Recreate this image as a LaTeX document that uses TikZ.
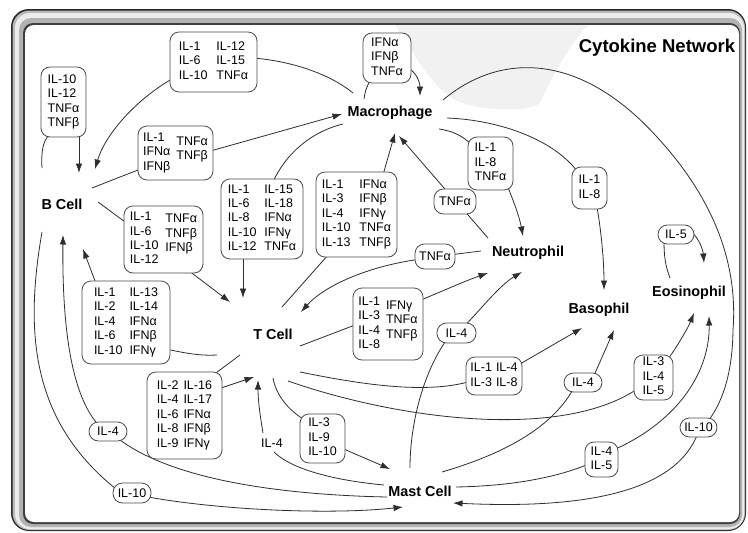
\documentclass[tikz,border=0pt]{standalone}
\usepackage{fontspec}
\setmainfont{Liberation Sans}
\usetikzlibrary{arrows.meta}
\pgfdeclarelayer{back}
\pgfdeclarelayer{edges}
\pgfsetlayers{back,edges,main}
\newcommand{\cl}[1]{\begin{tabular}[t]{@{}l@{}}#1\end{tabular}}
\newcommand{\cc}[1]{\begin{tabular}{@{}l@{}}#1\end{tabular}}
\tikzset{
  cellt/.style={font=\fontsize{14.4}{16}\selectfont\bfseries, inner sep=0pt},
  cbox/.style={draw=black!70, line width=0.8pt, rounded corners=9pt, fill=white, inner sep=0pt, font=\fontsize{12.5}{14.4}\selectfont},
  pill/.style={cbox, rounded corners=9.5pt},
  plaint/.style={inner sep=0pt, font=\fontsize{12.5}{14.4}\selectfont},
  ln/.style={draw=black!82, line width=0.8pt},
  ar/.style={ln, -{Latex[length=9.5pt,width=6.5pt]}}
}
\begin{document}
\begin{tikzpicture}[x=1pt,y=-1pt]
\useasboundingbox (0,0) rectangle (748,533);
% frame
\begin{pgfonlayer}{back}
\fill[black!85, rounded corners=18pt] (11,9) rectangle (746,531);
\fill[gray!55, rounded corners=17pt] (12.5,10.5) rectangle (745,530);
\fill[gray!15, rounded corners=15pt] (15,13) rectangle (744,529);
\fill[gray!60, rounded corners=12pt] (19,18) rectangle (742,527);
\fill[black!75, rounded corners=10pt] (23,23) rectangle (740,524);
\fill[white, rounded corners=9pt] (25,25) rectangle (739,522);
\begin{scope}
\clip[rounded corners=9pt] (25,25) rectangle (739,522);
\fill[gray!11] (395,25) .. controls (415,55) and (430,85) .. (455,100) .. controls (480,112) and (530,112) .. (540,103) .. controls (555,70) and (570,45) .. (588,25) -- cycle;
\end{scope}
\end{pgfonlayer}
% title and cells
\node[font=\fontsize{18.5}{20}\selectfont\bfseries, inner sep=0pt] (title) at (657,48) {Cytokine Network};
\node[cellt] (mac) at (390,113) {Macrophage};
\node[cellt] (bcell) at (62,204) {B Cell};
\node[cellt] (tcell) at (273,334) {T Cell};
\node[cellt] (neut) at (528,253) {Neutrophil};
\node[cellt] (baso) at (599,310) {Basophil};
\node[cellt] (eos) at (689,293) {Eosinophil};
\node[cellt] (mast) at (420,491) {Mast Cell};
% boxes
\node[cbox, minimum width=45pt, minimum height=70pt] (bA) at (63.5,102) {\cc{IL-10\\IL-12\\TNFα\\TNFβ}};
\node[cbox, minimum width=87pt, minimum height=60pt] (bB) at (213.5,62) {\cl{IL-1\\IL-6\\IL-10}\hspace{9pt}\cl{IL-12\\IL-15\\TNFα}};
\node[cbox, minimum width=48pt, minimum height=50pt] (bC) at (387,58) {\cc{IFNα\\IFNβ\\TNFα}};
\node[cbox, minimum width=75pt, minimum height=54pt] (bD) at (175.5,153) {\cl{IL-1\\IFNα\\IFNβ}\hspace{6pt}\raisebox{-4pt}{\cl{TNFα\\TNFβ}}};
\node[cbox, minimum width=79pt, minimum height=67pt] (bE) at (163.5,239.5) {\cl{IL-1\\IL-6\\IL-10\\IL-12}\hspace{7pt}\raisebox{-2pt}{\cl{TNFα\\TNFβ\\IFNβ}}};
\node[cbox, minimum width=82pt, minimum height=80pt] (bF) at (262,219) {\cl{IL-1\\IL-6\\IL-8\\IL-10\\IL-12}\hspace{8pt}\cl{IL-15\\IL-18\\IFNα\\IFNγ\\TNFα}};
\node[cbox, minimum width=81pt, minimum height=85pt] (bG) at (356.5,214.5) {\cl{IL-1\\IL-3\\IL-4\\IL-10\\IL-13}\hspace{9pt}\cl{IFNα\\IFNβ\\IFNγ\\TNFα\\TNFβ}};
\node[cbox, minimum width=45pt, minimum height=53pt] (bH) at (490.5,163.5) {\cc{IL-1\\IL-8\\TNFα}};
\node[cbox, minimum width=35pt, minimum height=42pt] (bI) at (589.5,188) {\cc{IL-1\\IL-8}};
\node[pill, minimum width=42pt, minimum height=25pt] (bJ) at (455,201.5) {TNFα};
\node[pill, minimum width=40pt, minimum height=25pt] (bK) at (435,256.5) {TNFα};
\node[pill, minimum width=36pt, minimum height=19pt] (bL) at (676,234.5) {IL-5};
\node[cbox, minimum width=88pt, minimum height=83pt] (bM) at (126,322.5) {\cl{IL-1\\IL-2\\IL-4\\IL-6\\IL-10}\hspace{7pt}\cl{IL-13\\IL-14\\IFNα\\IFNβ\\IFNγ}};
\node[cbox, minimum width=70pt, minimum height=72pt] (bN) at (388,324) {\cl{IL-1\\IL-3\\IL-4\\IL-8}\hspace{6pt}\raisebox{-4pt}{\cl{IFNγ\\TNFα\\TNFβ}}};
\node[pill, minimum width=39pt, minimum height=20pt] (bO) at (456.5,333) {IL-4};
\node[cbox, minimum width=75pt, minimum height=87pt] (bP) at (184.5,415.5) {\cl{IL-2\\IL-4\\IL-6\\IL-8\\IL-9}\hspace{5pt}\cl{IL-16\\IL-17\\IFNα\\IFNβ\\IFNγ}};
\node[pill, minimum width=38pt, minimum height=19pt] (bQ) at (108,431.5) {IL-4};
\node[pill, minimum width=38pt, minimum height=20pt] (bR) at (132,493) {IL-10};
\node[plaint] (il4) at (272,443) {IL-4};
\node[cbox, minimum width=45pt, minimum height=49pt] (bS) at (322.5,438.5) {\cc{IL-3\\IL-9\\IL-10}};
\node[cbox, minimum width=56pt, minimum height=38pt] (bT) at (494,376) {\cl{IL-1\\IL-3}\hspace{4pt}\cl{IL-4\\IL-8}};
\node[pill, minimum width=38pt, minimum height=19pt] (bU) at (583,382.5) {IL-4};
\node[cbox, minimum width=39pt, minimum height=45pt] (bV) at (653.5,377.5) {\cc{IL-3\\IL-4\\IL-5}};
\node[pill, minimum width=37pt, minimum height=19pt] (bW) at (698.5,427.5) {IL-10};
\node[cbox, minimum width=33pt, minimum height=35pt] (bX) at (601.5,459.5) {\cc{IL-4\\IL-5}};
% connectors
\begin{pgfonlayer}{edges}
\draw[ln] ([shift={(-20,-36)}]bcell.center) .. controls (41,152) and (43,140) .. ([shift={(-14,33)}]bA.center);
\draw[ar] ([shift={(15.5,30)}]bA.center) -- ([shift={(17,-31)}]bcell.center);
\draw[ln] ([shift={(-37,-20)}]mac.center) .. controls (335,78) and (300,62) .. ([shift={(40,-4)}]bB.center);
\draw[ar] ([shift={(-40,16)}]bB.center) .. controls (135,100) and (105,135) .. ([shift={(33,-35)}]bcell.center);
\draw[ln] ([shift={(30,-16)}]bcell.center) -- ([shift={(-35,16)}]bD.center);
\draw[ar] ([shift={(35,-2)}]bD.center) -- ([shift={(-48,1)}]mac.center);
\draw[ln] ([shift={(36,-2)}]bcell.center) -- ([shift={(-35,-15)}]bE.center);
\draw[ar] ([shift={(25,31)}]bE.center) -- ([shift={(-43,-32)}]tcell.center);
\draw[ln] ([shift={(-56,21)}]tcell.center) .. controls (200,356) and (185,353) .. ([shift={(42,27)}]bM.center);
\draw[ar] ([shift={(-30,-39)}]bM.center) -- ([shift={(21,45)}]bcell.center);
\draw[ln] ([shift={(-47,11)}]mac.center) .. controls (310,132) and (285,155) .. ([shift={(11,-37)}]bF.center);
\draw[ar] ([shift={(-19,37)}]bF.center) -- ([shift={(-30,-36)}]tcell.center);
\draw[ln] ([shift={(9,-27)}]tcell.center) -- ([shift={(-28,40)}]bG.center);
\draw[ar] ([shift={(25.5,-36)}]bG.center) -- ([shift={(5,20)}]mac.center);
\draw[ln] ([shift={(-40,-15)}]neut.center) -- ([shift={(10,10)}]bJ.center);
\draw[ar] ([shift={(-8,-10)}]bJ.center) -- ([shift={(9,23)}]mac.center);
\draw[ln] ([shift={(49,16)}]mac.center) .. controls (452,131) and (462,135) .. ([shift={(-18,-18)}]bH.center);
\draw[ar] ([shift={(16,20)}]bH.center) .. controls (513,200) and (519,215) .. ([shift={(-5,-17)}]neut.center);
\draw[ln] ([shift={(-26,-14)}]mac.center) .. controls (365,92) and (366,88) .. ([shift={(-17,23)}]bC.center);
\draw[ar] ([shift={(21,10)}]bC.center) .. controls (416,72) and (420,82) .. ([shift={(30,-17)}]mac.center);
\draw[ln] ([shift={(57,5)}]mac.center) .. controls (500,120) and (555,140) .. ([shift={(-11,-15)}]bI.center);
\draw[ar] ([shift={(7.5,19)}]bI.center) .. controls (601,230) and (604,260) .. ([shift={(5,-20)}]baso.center);
\draw[ln] ([shift={(53,-13)}]mac.center) .. controls (500,52) and (580,52) .. (657,137) .. controls (715,200) and (738,265) .. (733,330) .. controls (732.5,370) and (724,400) .. ([shift={(10,-7)}]bW.center);
\draw[ar] ([shift={(-1.5,8)}]bW.center) .. controls (670,500) and (560,508) .. ([shift={(33,12)}]mast.center);
\draw[ln] ([shift={(-47,-2)}]neut.center) -- ([shift={(18,-2)}]bK.center);
\draw[ar] ([shift={(-17,3)}]bK.center) .. controls (370,266) and (325,285) .. ([shift={(28,-22)}]tcell.center);
\draw[ln] ([shift={(27,12)}]tcell.center) -- ([shift={(-33,1)}]bN.center);
\draw[ar] ([shift={(33,-24)}]bN.center) .. controls (445,290) and (465,281) .. ([shift={(-40,20)}]neut.center);
\draw[ln] ([shift={(-10,-23)}]mast.center) .. controls (410,420) and (425,370) .. ([shift={(-10,7)}]bO.center);
\draw[ar] ([shift={(9,-8)}]bO.center) .. controls (480,310) and (500,285) .. ([shift={(-6,19)}]neut.center);
\draw[ln] ([shift={(27,38)}]tcell.center) .. controls (350,382) and (420,395) .. ([shift={(-26,6)}]bT.center);
\draw[ar] ([shift={(26,-12)}]bT.center) -- ([shift={(-17,18)}]baso.center);
\draw[ln] ([shift={(22,-19)}]mast.center) .. controls (500,455) and (550,430) .. ([shift={(-10,7)}]bU.center);
\draw[ar] ([shift={(11,-7)}]bU.center) -- ([shift={(15,20)}]baso.center);
\draw[ln] ([shift={(15,47)}]tcell.center) .. controls (400,420) and (560,440) .. ([shift={(-17,12)}]bV.center);
\draw[ar] ([shift={(15,-19)}]bV.center) .. controls (678,345) and (688,328) .. ([shift={(5,20)}]eos.center);
\draw[ln] ([shift={(36,-4)}]mast.center) .. controls (510,486) and (555,478) .. ([shift={(-14,5)}]bX.center);
\draw[ar] ([shift={(13,-10)}]bX.center) .. controls (680,420) and (710,370) .. ([shift={(20,23)}]eos.center);
\draw[ln] ([shift={(-36,-6)}]mast.center) .. controls (330,480) and (290,468) .. ([shift={(2,9)}]il4.center);
\draw[ar] ([shift={(-9,-10)}]il4.center) .. controls (260,415) and (258,400) .. ([shift={(-15,46)}]tcell.center);
\draw[ln] ([shift={(-33,6)}]mast.center) .. controls (290,495) and (175,482) .. ([shift={(10,7)}]bQ.center);
\draw[ar] ([shift={(-10,-7)}]bQ.center) .. controls (72,395) and (62,330) .. ([shift={(1,31)}]bcell.center);
\draw[ln] ([shift={(-20,28)}]bcell.center) .. controls (25,330) and (30,420) .. ([shift={(-16,-4)}]bR.center);
\draw[ar] ([shift={(16,4)}]bR.center) .. controls (220,510) and (330,515) .. ([shift={(-17,16)}]mast.center);
\draw[ln] ([shift={(0,44)}]tcell.center) .. controls (276,395) and (288,410) .. ([shift={(-17,-18)}]bS.center);
\draw[ar] ([shift={(20,10)}]bS.center) -- ([shift={(-30,-22)}]mast.center);
\draw[ln] ([shift={(-33,21)}]tcell.center) -- ([shift={(28,-40)}]bP.center);
\draw[ar] ([shift={(35,-27)}]bP.center) -- ([shift={(-19,43)}]tcell.center);
\draw[ln] ([shift={(-19,-15)}]eos.center) .. controls (665,265) and (664,255) .. ([shift={(-12,6)}]bL.center);
\draw[ar] ([shift={(15,-3)}]bL.center) .. controls (699,238) and (703,250) .. ([shift={(15,-30)}]eos.center);
\end{pgfonlayer}
\end{tikzpicture}
\end{document}
